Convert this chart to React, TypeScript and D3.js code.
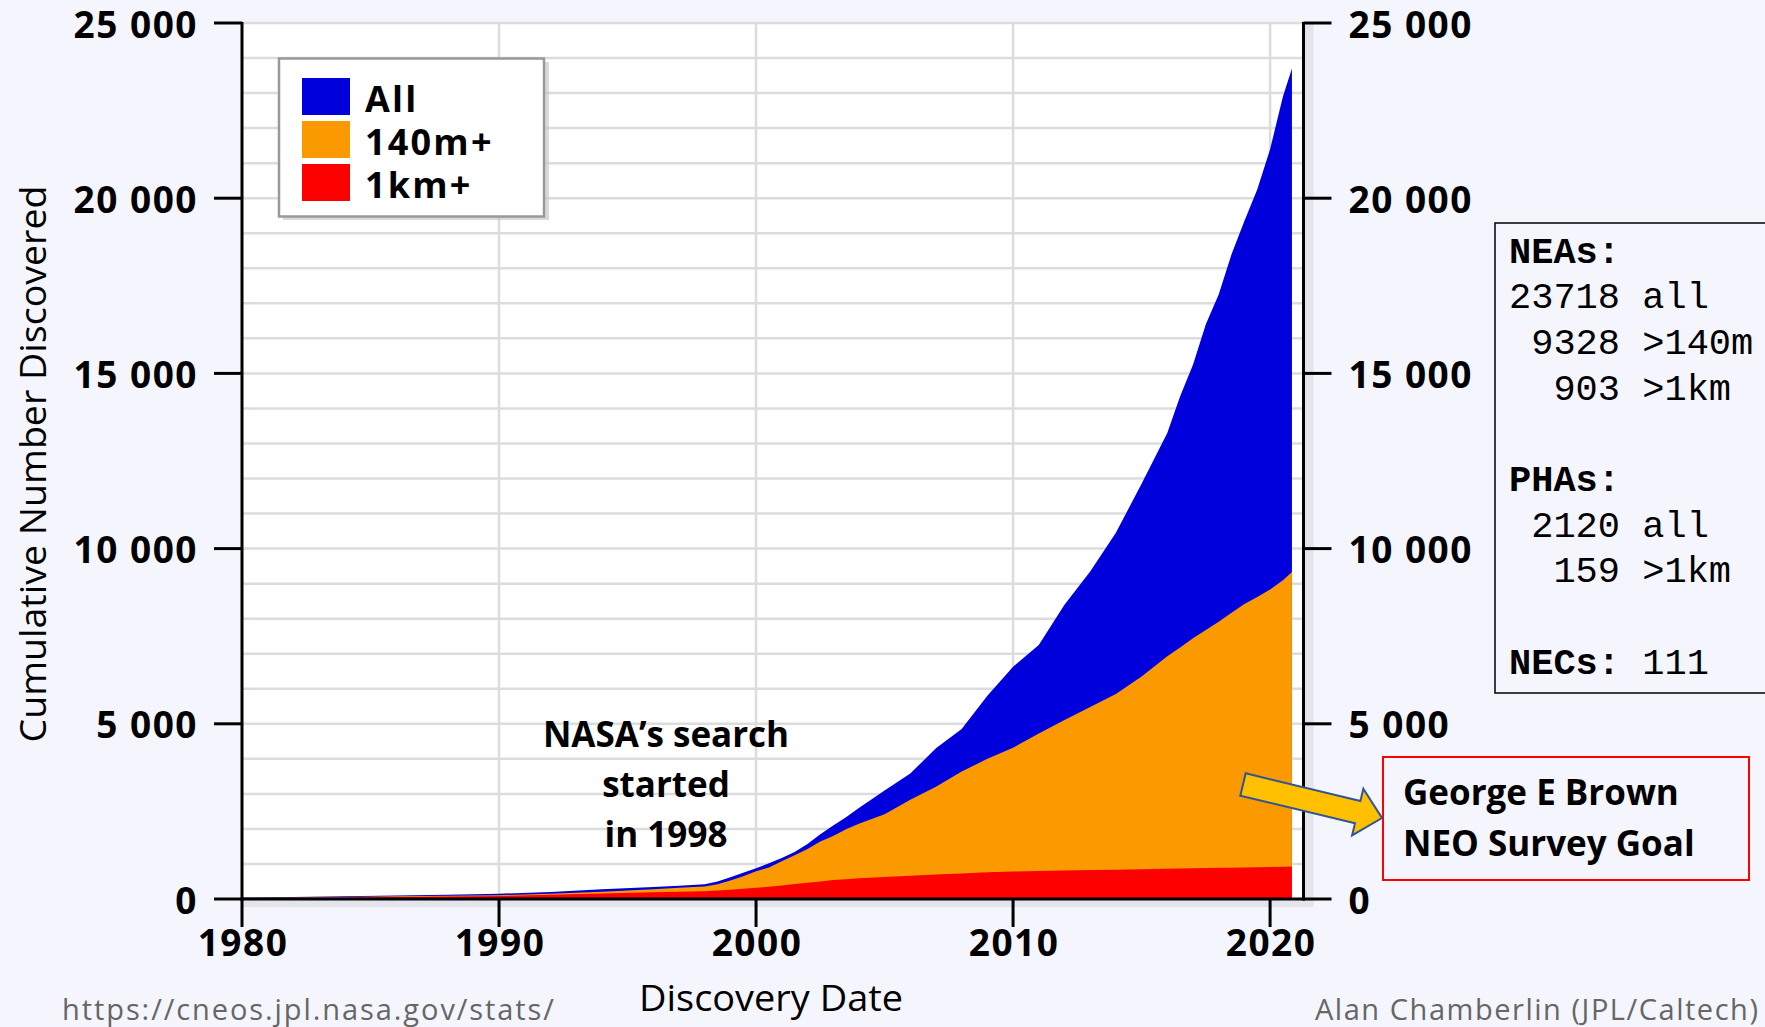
import React from "react";
import * as d3 from "d3";

// ---- data ----
const dates = [1980, 1982, 1984, 1986, 1988, 1990, 1992, 1994, 1996, 1997, 1998, 1998.5, 1999, 1999.5, 2000, 2000.5, 2001, 2001.5, 2002, 2002.5, 2003, 2003.5, 2004, 2005, 2006, 2007, 2008, 2009, 2010, 2011, 2012, 2013, 2014, 2015, 2016, 2016.5, 2017, 2017.5, 2018, 2018.5, 2019, 2019.5, 2020, 2020.5, 2020.85];
const allNEAs = [40, 60, 80, 100, 120, 150, 200, 275, 340, 380, 420, 500, 620, 750, 880, 1020, 1170, 1340, 1570, 1850, 2100, 2330, 2600, 3100, 3580, 4300, 4850, 5800, 6630, 7250, 8400, 9350, 10450, 11850, 13300, 14350, 15250, 16400, 17250, 18400, 19350, 20250, 21400, 22900, 23700];
const nea140m = [30, 45, 60, 75, 90, 110, 150, 210, 280, 320, 360, 420, 530, 650, 790, 900, 1080, 1250, 1430, 1640, 1800, 1990, 2150, 2420, 2830, 3200, 3640, 4000, 4320, 4720, 5110, 5480, 5850, 6350, 6930, 7180, 7440, 7680, 7910, 8170, 8420, 8620, 8830, 9100, 9330];
const nea1km = [20, 32, 44, 56, 70, 85, 120, 160, 190, 205, 220, 240, 265, 290, 320, 350, 385, 425, 465, 500, 540, 565, 590, 625, 665, 700, 730, 760, 785, 800, 812, 825, 838, 852, 866, 872, 878, 884, 889, 894, 899, 904, 910, 918, 925];

const seriesNames = ["All", "140m+", "1km+"];
const seriesColors = ["#0000dc", "#fb9900", "#ff0000"];
const xTickYears = [1980, 1990, 2000, 2010, 2020];
const yTickValues = [0, 5000, 10000, 15000, 20000, 25000];

const statsLines = [
  { head: "NEAs:", rest: "" },
  { head: "", rest: "23718 all" },
  { head: "", rest: " 9328 >140m" },
  { head: "", rest: "  903 >1km" },
  { head: "", rest: "" },
  { head: "PHAs:", rest: "" },
  { head: "", rest: " 2120 all" },
  { head: "", rest: "  159 >1km" },
  { head: "", rest: "" },
  { head: "NECs:", rest: " 111" },
];
const noteLines = ["NASA\u2019s search", "started", "in 1998"];
const goalLines = ["George E Brown", "NEO Survey Goal"];

const W = 1765;
const H = 1027;
const SANS = "'Open Sans', 'DejaVu Sans', sans-serif";
const MONO = "'Liberation Mono', 'DejaVu Sans Mono', monospace";

export default function App() {
  const x = d3.scaleLinear().domain([1980, 2021.3]).range([242, 1303.5]);
  const y = d3.scaleLinear().domain([0, 25000]).range([899, 23]);
  const fmt = d3.formatLocale({ decimal: ".", thousands: " ", grouping: [3], currency: ["", ""] }).format(",");

  const seriesValues = [allNEAs, nea140m, nea1km];
  const area = (vals: number[]) =>
    d3
      .area<number>()
      .x((_, i) => x(dates[i]))
      .y0(y(0))
      .y1((d) => y(d))
      .curve(d3.curveLinear)(vals) as string;

  const gridY = y.ticks(25).filter((v) => v > 0);
  const gridX = xTickYears.filter((v) => v > 1980);

  const [px0, px1] = x.range();
  const [py0, py1] = y.range();

  // arrow geometry (annotation)
  const ax0 = 1243, ay0 = 784.5, ax1 = 1382, ay1 = 818;
  const L = Math.hypot(ax1 - ax0, ay1 - ay0);
  const ang = (Math.atan2(ay1 - ay0, ax1 - ax0) * 180) / Math.PI;
  const arrowPts = [
    [0, -11.5], [L - 25, -11.5], [L - 25, -24], [L, 0], [L - 25, 24], [L - 25, 11.5], [0, 11.5],
  ].map((p) => p.join(",")).join(" ");

  return (
    <svg width={W} height={H} style={{ position: "absolute", left: 0, top: 0, display: "block" }}>
      <rect x={0} y={0} width={W} height={H} fill="#f5f6fd" />
      {/* plot area */}
      <rect x={px0} y={py1} width={px1 - px0} height={py0 - py1} fill="#ffffff" />
      {/* shadows of axes */}
      <rect x={px1 + 1} y={py1} width={9} height={py0 - py1 + 8} fill="#e3e4ec" />
      <rect x={px0} y={py0 + 1} width={px1 - px0 + 10} height={7} fill="#e3e4ec" />
      {/* grid */}
      {gridY.map((v) => (
        <line key={"gy" + v} x1={px0} x2={px1} y1={y(v)} y2={y(v)} stroke="#dcdcdc" strokeWidth={2.5} />
      ))}
      {gridX.map((v) => (
        <line key={"gx" + v} x1={x(v)} x2={x(v)} y1={py1} y2={py0} stroke="#dcdcdc" strokeWidth={2.5} />
      ))}
      {/* areas */}
      {seriesValues.map((vals, i) => (
        <path key={seriesNames[i]} d={area(vals)} fill={seriesColors[i]} />
      ))}
      {/* axes */}
      <line x1={px0} x2={px0} y1={py1 - 1} y2={py0 + 1.5} stroke="#000" strokeWidth={3} />
      <line x1={px1} x2={px1} y1={py1 - 1} y2={py0 + 1.5} stroke="#000" strokeWidth={3} />
      <line x1={px0 - 1.5} x2={px1 + 1.5} y1={py0} y2={py0} stroke="#000" strokeWidth={3} />
      {yTickValues.map((v) => (
        <g key={"yt" + v}>
          <line x1={px0 - 28} x2={px0} y1={y(v)} y2={y(v)} stroke="#000" strokeWidth={3} />
          <line x1={px1} x2={px1 + 28} y1={y(v)} y2={y(v)} stroke="#000" strokeWidth={3} />
          <text x={px0 - 44} y={y(v) + 14.5} textAnchor="end" fontFamily={SANS} fontWeight={700} fontSize={37} letterSpacing={1.5} fill="#000">
            {fmt(v)}
          </text>
          <text x={px1 + 45} y={y(v) + 14.5} textAnchor="start" fontFamily={SANS} fontWeight={700} fontSize={37} letterSpacing={1.5} fill="#000">
            {fmt(v)}
          </text>
        </g>
      ))}
      {xTickYears.map((v) => (
        <g key={"xt" + v}>
          <line x1={x(v)} x2={x(v)} y1={py0} y2={py0 + 28} stroke="#000" strokeWidth={3} />
          <text x={x(v) + 1} y={956} textAnchor="middle" fontFamily={SANS} fontWeight={700} fontSize={37} letterSpacing={1.5} fill="#000">
            {v}
          </text>
        </g>
      ))}
      {/* axis titles */}
      <text
        transform="translate(46,464) rotate(-90)"
        textAnchor="middle"
        fontFamily={SANS}
        fontSize={37}
        textLength={557}
        lengthAdjust="spacingAndGlyphs"
        fill="#000"
      >
        Cumulative Number Discovered
      </text>
      <text x={771} y={1011} textAnchor="middle" fontFamily={SANS} fontSize={36} textLength={264} lengthAdjust="spacingAndGlyphs" fill="#000">
        Discovery Date
      </text>
      {/* legend */}
      <rect x={283} y={62} width={266} height={158} fill="#c9c9cf" opacity={0.7} />
      <rect x={279} y={58.5} width={265} height={158} fill="#fff" stroke="#999" strokeWidth={2.5} />
      {seriesNames.map((n, i) => (
        <g key={"lg" + n}>
          <rect x={302} y={78 + i * 43} width={48} height={37} fill={seriesColors[i]} />
          <text x={365} y={112 + i * 43} fontFamily={SANS} fontWeight={700} fontSize={36} letterSpacing={2.2} fill="#000">
            {n}
          </text>
        </g>
      ))}
      {/* NASA note */}
      {noteLines.map((t, i) => (
        <text key={"nl" + i} x={666} y={747 + i * 50} textAnchor="middle" fontFamily={SANS} fontWeight={700} fontSize={35} fill="#000">
          {t}
        </text>
      ))}
      {/* stats box */}
      <rect x={1495} y={223} width={300} height={470} fill="none" stroke="#000" strokeWidth={1.5} />
      {statsLines.map((l, i) => (
        <text key={"st" + i} x={1509} y={262.5 + i * 45.7} fontFamily={MONO} fontSize={37} fill="#000" xmlSpace="preserve" style={{ whiteSpace: "pre" }}>
          {l.head ? <tspan fontWeight={700}>{l.head}</tspan> : null}
          {l.rest ? <tspan>{l.rest}</tspan> : null}
        </text>
      ))}
      {/* goal box */}
      <rect x={1383} y={757} width={366} height={123} fill="none" stroke="#ff0000" strokeWidth={2} />
      {goalLines.map((t, i) => (
        <text key={"gl" + i} x={1403} y={805 + i * 51} fontFamily={SANS} fontWeight={700} fontSize={35} fill="#000">
          {t}
        </text>
      ))}
      {/* arrow */}
      <polygon
        points={arrowPts}
        transform={`translate(${ax0},${ay0}) rotate(${ang})`}
        fill="#ffc000"
        stroke="#2f5597"
        strokeWidth={2}
        strokeLinejoin="miter"
      />
      {/* footers */}
      <text x={62} y={1020} fontFamily={SANS} fontSize={29} fill="#666" textLength={492} lengthAdjust="spacing">
        https://cneos.jpl.nasa.gov/stats/
      </text>
      <text x={1315} y={1020} fontFamily={SANS} fontSize={29} fill="#666" textLength={443} lengthAdjust="spacing">
        Alan Chamberlin (JPL/Caltech)
      </text>
    </svg>
  );
}
